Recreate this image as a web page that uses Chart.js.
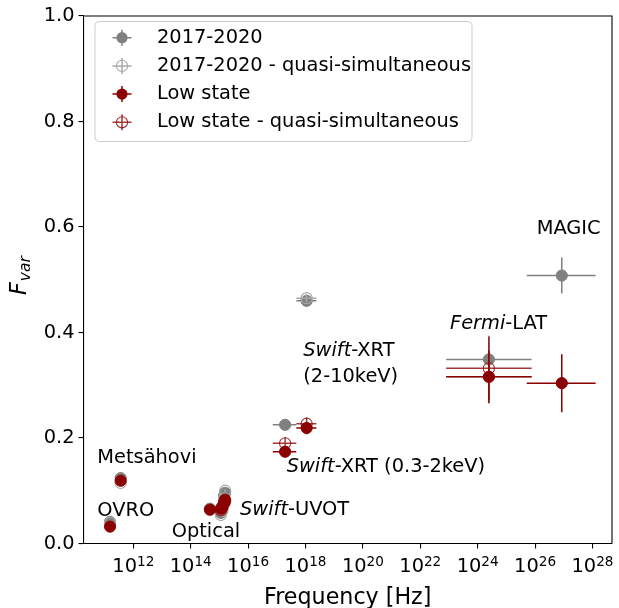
<!DOCTYPE html>
<html><head><meta charset="utf-8">
<script src="https://cdn.jsdelivr.net/npm/chart.js@4"></script>
<style>html,body{margin:0;padding:0;background:#fff;} canvas{display:block;}</style>
</head><body>
<canvas id="c" width="619" height="608" style="width:619px;height:608px"></canvas>
<script>
const FONT = 'DejaVu Sans';

// ---------- tick labels ----------
const X_TICK_EXPONENTS = [12, 14, 16, 18, 20, 22, 24, 26, 28];
const Y_TICKS = [0.0, 0.2, 0.4, 0.6, 0.8, 1.0];

// ---------- series names ----------
const SERIES_NAMES = ['2017-2020', '2017-2020 - quasi-simultaneous', 'Low state', 'Low state - quasi-simultaneous'];

// ---------- 2017-2020 (filled grey) ----------
// OVRO, Metsähovi, Optical, UVOT x4, XRT soft, XRT hard, Fermi-LAT, MAGIC
const ALL_LOGNU    = [11.19, 11.56, 14.67, 15.05, 15.10, 15.16, 15.20, 17.29, 18.04, 24.39, 26.93];
const ALL_FVAR     = [0.041, 0.124, 0.066, 0.058, 0.065, 0.090, 0.096, 0.225, 0.460, 0.349, 0.508];
const ALL_FVAR_ERR = [0.004, 0.004, 0.002, 0.003, 0.003, 0.003, 0.003, 0.004, 0.008, 0.045, 0.034];
const ALL_LOGNU_LO = [null, null, null, null, null, null, null, 16.86, 17.68, 22.90, 25.71];
const ALL_LOGNU_HI = [null, null, null, null, null, null, null, 17.68, 18.38, 25.88, 28.11];

// ---------- 2017-2020 quasi-simultaneous (open grey) ----------
const ALLQS_LOGNU    = [11.19, 11.56, 15.05, 15.10, 15.16, 15.20, 18.04, 24.39];
const ALLQS_FVAR     = [0.039, 0.115, 0.054, 0.062, 0.085, 0.100, 0.465, 0.316];
const ALLQS_FVAR_ERR = [0.004, 0.004, 0.003, 0.003, 0.003, 0.003, 0.008, 0.050];
const ALLQS_LOGNU_LO = [null, null, null, null, null, null, 17.68, 22.90];
const ALLQS_LOGNU_HI = [null, null, null, null, null, null, 18.38, 25.88];

// ---------- Low state (filled dark red) ----------
const LOW_LOGNU    = [11.19, 11.56, 14.67, 15.05, 15.10, 15.16, 15.20, 17.29, 18.04, 24.39, 26.93];
const LOW_FVAR     = [0.032, 0.119, 0.064, 0.066, 0.070, 0.078, 0.083, 0.174, 0.219, 0.316, 0.304];
const LOW_FVAR_ERR = [0.004, 0.004, 0.002, 0.003, 0.003, 0.003, 0.003, 0.006, 0.012, 0.050, 0.055];
const LOW_LOGNU_LO = [null, null, null, null, null, null, null, 16.86, 17.68, 22.90, 25.71];
const LOW_LOGNU_HI = [null, null, null, null, null, null, null, 17.68, 18.38, 25.88, 28.11];

// ---------- Low state quasi-simultaneous (open dark red) ----------
const LOWQS_LOGNU    = [15.05, 15.10, 15.16, 15.20, 17.29, 18.04, 24.39];
const LOWQS_FVAR     = [0.063, 0.068, 0.075, 0.080, 0.190, 0.227, 0.332];
const LOWQS_FVAR_ERR = [0.003, 0.003, 0.003, 0.003, 0.012, 0.012, 0.060];
const LOWQS_LOGNU_LO = [null, null, null, null, 16.86, 17.68, 22.90];
const LOWQS_LOGNU_HI = [null, null, null, null, 17.68, 18.38, 25.88];

// ---------- annotations (data coordinates: log10 nu, Fvar) ----------
const ANNOTATIONS = [
  {lognu: 10.746, f: 0.163, parts: [['Metsähovi', false]]},
  {lognu: 10.746, f: 0.0622, parts: [['OVRO', false]]},
  {lognu: 13.338, f: 0.0227, parts: [['Optical', false]]},
  {lognu: 15.718, f: 0.0635, parts: [['Swift', true], ['-UVOT', false]]},
  {lognu: 17.345, f: 0.1456, parts: [['Swift', true], ['-XRT (0.3-2keV)', false]]},
  {lognu: 17.923, f: 0.3655, parts: [['Swift', true], ['-XRT', false]]},
  {lognu: 17.923, f: 0.3162, parts: [['(2-10keV)', false]]},
  {lognu: 23.035, f: 0.4161, parts: [['Fermi', true], ['-LAT', false]]},
  {lognu: 26.056, f: 0.5956, parts: [['MAGIC', false]]},
];

const STYLES = [
  {color: '#808080', open: false},
  {color: '#a8a8a8', open: true},
  {color: '#8b0000', open: false},
  {color: 'rgba(139,0,0,0.78)', open: true},
];

function build(lognu, fvar, ferr, lo, hi) {
  return lognu.map((l, i) => ({
    x: Math.pow(10, l), y: fvar[i], yerr: ferr[i],
    xlo: lo[i] == null ? null : Math.pow(10, lo[i]),
    xhi: hi[i] == null ? null : Math.pow(10, hi[i]),
  }));
}
const SERIES_DATA = [
  build(ALL_LOGNU, ALL_FVAR, ALL_FVAR_ERR, ALL_LOGNU_LO, ALL_LOGNU_HI),
  build(ALLQS_LOGNU, ALLQS_FVAR, ALLQS_FVAR_ERR, ALLQS_LOGNU_LO, ALLQS_LOGNU_HI),
  build(LOW_LOGNU, LOW_FVAR, LOW_FVAR_ERR, LOW_LOGNU_LO, LOW_LOGNU_HI),
  build(LOWQS_LOGNU, LOWQS_FVAR, LOWQS_FVAR_ERR, LOWQS_LOGNU_LO, LOWQS_LOGNU_HI),
];

const datasets = SERIES_DATA.map((d, i) => ({
  label: SERIES_NAMES[i],
  data: d,
  order: 4 - i,
  errColor: STYLES[i].color,
  pointStyle: 'circle',
  pointRadius: 5.6,
  pointHoverRadius: 5.6,
  borderWidth: STYLES[i].open ? 1.1 : 1,
  borderColor: STYLES[i].color,
  backgroundColor: STYLES[i].open ? 'rgba(0,0,0,0)' : STYLES[i].color,
  showLine: false,
}));

const errorBarPlugin = {
  id: 'errbars',
  beforeDatasetDraw(chart, args) {
    const ds = chart.data.datasets[args.index];
    const xs = chart.scales.x, ys = chart.scales.y, c = chart.ctx, a = chart.chartArea;
    c.save();
    c.beginPath(); c.rect(a.left, a.top, a.right - a.left, a.bottom - a.top); c.clip();
    c.strokeStyle = ds.errColor; c.lineWidth = 1.5; c.lineCap = 'butt';
    ds.data.forEach(p => {
      const px = xs.getPixelForValue(p.x), py = ys.getPixelForValue(p.y);
      c.beginPath();
      if (p.xlo != null) {
        c.moveTo(xs.getPixelForValue(p.xlo), py);
        c.lineTo(xs.getPixelForValue(p.xhi), py);
      }
      if (p.yerr) {
        c.moveTo(px, ys.getPixelForValue(p.y - p.yerr));
        c.lineTo(px, ys.getPixelForValue(p.y + p.yerr));
      }
      c.stroke();
    });
    c.restore();
  }
};

function drawRuns(c, x, y, parts, size) {
  let cx = x;
  parts.forEach(([t, it]) => {
    c.font = (it ? 'italic ' : '') + size + 'px "' + FONT + '"';
    c.fillText(t, cx, y);
    cx += c.measureText(t).width;
  });
}

const decorPlugin = {
  id: 'decor',
  afterDraw(chart) {
    const c = chart.ctx, a = chart.chartArea, xs = chart.scales.x, ys = chart.scales.y;
    c.save();
    // top and right spines
    c.strokeStyle = '#000'; c.lineWidth = 1.1;
    c.beginPath();
    c.moveTo(a.left, a.top); c.lineTo(a.right, a.top); c.lineTo(a.right, a.bottom);
    c.stroke();

    c.fillStyle = '#000';
    // x tick labels 10^n
    c.textBaseline = 'alphabetic'; c.textAlign = 'left';
    X_TICK_EXPONENTS.forEach(e => {
      const px = xs.getPixelForValue(Math.pow(10, e));
      c.font = '19.4px "' + FONT + '"';
      const w1 = c.measureText('10').width;
      c.font = '13.6px "' + FONT + '"';
      const w2 = c.measureText(String(e)).width;
      const x0 = px - (w1 + w2) / 2;
      c.font = '19.4px "' + FONT + '"';
      c.fillText('10', x0, 572.3);
      c.font = '13.6px "' + FONT + '"';
      c.fillText(String(e), x0 + w1, 565.5);
    });
    // x axis title
    c.font = '22.2px "' + FONT + '"';
    c.textAlign = 'center';
    c.fillText('Frequency [Hz]', (a.left + a.right) / 2, 603.5);

    // y axis title F_var (rotated)
    c.save();
    c.translate(25.5, 276);
    c.rotate(-Math.PI / 2);
    c.textAlign = 'left';
    c.font = 'italic 22.2px "' + FONT + '"';
    const wF = c.measureText('F').width;
    c.font = 'italic 15.5px "' + FONT + '"';
    const wV = c.measureText('var').width;
    const sx = -(wF + wV) / 2;
    c.font = 'italic 22.2px "' + FONT + '"';
    c.fillText('F', sx, 0);
    c.font = 'italic 15.5px "' + FONT + '"';
    c.fillText('var', sx + wF + 1, 4.5);
    c.restore();

    // annotations
    c.textAlign = 'left'; c.textBaseline = 'middle';
    ANNOTATIONS.forEach(an => {
      const px = xs.getPixelForValue(Math.pow(10, an.lognu));
      const py = ys.getPixelForValue(an.f);
      drawRuns(c, px, py, an.parts, 19.4);
    });

    // legend
    const lx = 95, ly = 21.5, lw = 377, lh = 120, r = 4;
    c.beginPath();
    c.moveTo(lx + r, ly); c.lineTo(lx + lw - r, ly); c.quadraticCurveTo(lx + lw, ly, lx + lw, ly + r);
    c.lineTo(lx + lw, ly + lh - r); c.quadraticCurveTo(lx + lw, ly + lh, lx + lw - r, ly + lh);
    c.lineTo(lx + r, ly + lh); c.quadraticCurveTo(lx, ly + lh, lx, ly + lh - r);
    c.lineTo(lx, ly + r); c.quadraticCurveTo(lx, ly, lx + r, ly);
    c.closePath();
    c.fillStyle = 'rgba(255,255,255,0.8)'; c.fill();
    c.strokeStyle = '#cccccc'; c.lineWidth = 1; c.stroke();
    SERIES_NAMES.forEach((name, i) => {
      const cy = 37.7 + i * 28.2, mx = 122;
      const st = STYLES[i];
      c.strokeStyle = st.color; c.lineWidth = 1.5;
      c.beginPath();
      c.moveTo(mx - 9.5, cy); c.lineTo(mx + 9.5, cy);
      c.moveTo(mx, cy - 8); c.lineTo(mx, cy + 8);
      c.stroke();
      c.beginPath(); c.arc(mx, cy, 5.6, 0, Math.PI * 2);
      if (st.open) { c.lineWidth = 1.1; c.stroke(); }
      else { c.fillStyle = st.color; c.fill(); }
      c.fillStyle = '#000';
      c.font = '19.4px "' + FONT + '"';
      c.textBaseline = 'middle';
      c.fillText(name, 157, cy);
    });
    c.restore();
  }
};

new Chart(document.getElementById('c'), {
  type: 'scatter',
  data: {datasets},
  plugins: [errorBarPlugin, decorPlugin],
  options: {
    responsive: false, animation: false, devicePixelRatio: 1,
    layout: {padding: {left: 0, right: 7, top: 16, bottom: 0}},
    plugins: {legend: {display: false}, tooltip: {enabled: false}},
    scales: {
      x: {
        type: 'logarithmic',
        min: Math.pow(10, 10.265), max: Math.pow(10, 28.68),
        afterBuildTicks: s => { s.ticks = X_TICK_EXPONENTS.map(e => ({value: Math.pow(10, e)})); },
        afterFit: s => { s.height = 64.5; },
        ticks: {display: false},
        grid: {display: true, drawOnChartArea: false, drawTicks: true, tickLength: 5, color: '#000', lineWidth: 1.1},
        border: {display: true, color: '#000', width: 1.1},
      },
      y: {
        min: 0, max: 1,
        afterBuildTicks: s => { s.ticks = Y_TICKS.map(v => ({value: v})); },
        afterFit: s => { s.width = 83.5; },
        ticks: {callback: v => Number(v).toFixed(1), font: {family: FONT, size: 19.4}, color: '#000', padding: 4},
        grid: {display: true, drawOnChartArea: false, drawTicks: true, tickLength: 5, color: '#000', lineWidth: 1.1},
        border: {display: true, color: '#000', width: 1.1},
      }
    }
  }
});
</script>
</body></html>
